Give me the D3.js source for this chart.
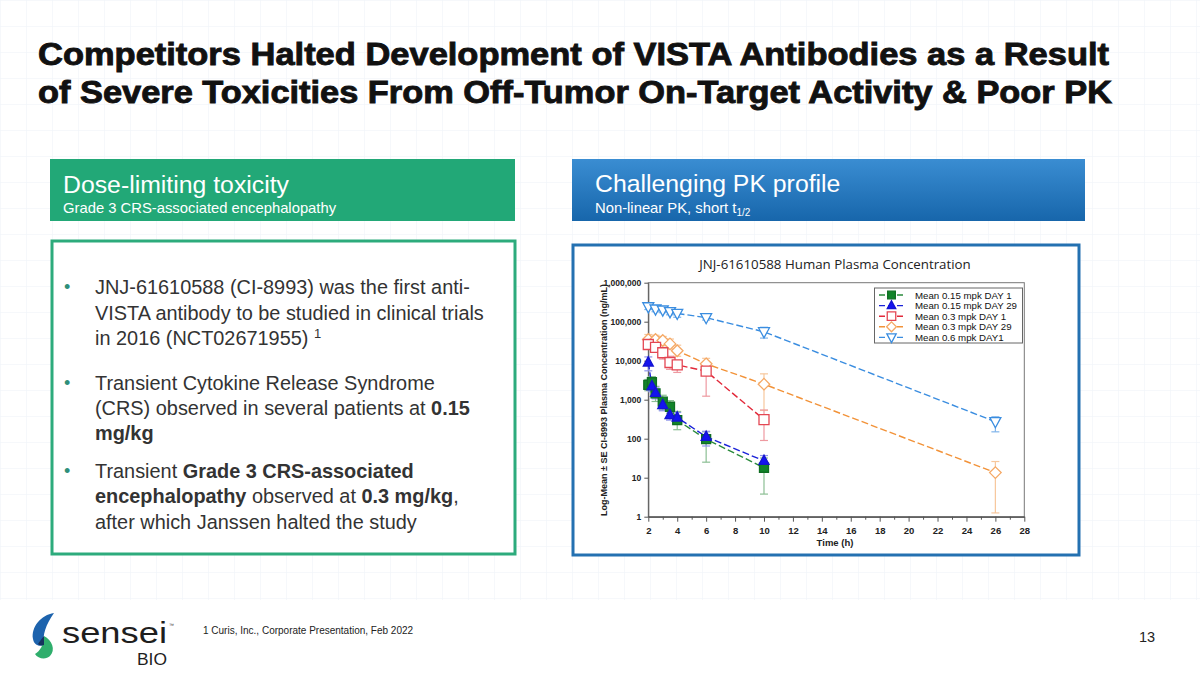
<!DOCTYPE html>
<html><head><meta charset="utf-8">
<script src="https://cdn.jsdelivr.net/npm/d3@7"></script>
<style>
html,body{margin:0;padding:0;background:#fff;}
svg{display:block;font-family:"Liberation Sans",Arial,sans-serif;}
</style></head>
<body>
<svg id="c" width="1200" height="675"></svg>
<script>
// ---------------- data ----------------
const xTicks = [2,4,6,8,10,12,14,16,18,20,22,24,26,28];
const xMinor = [3,5,7,9,11,13,15,17,19,21,23,25,27];
const yTicks = [1,10,100,1000,10000,100000,1000000];

const seriesNames = ["Mean 0.15 mpk DAY 1","Mean 0.15 mpk DAY 29","Mean 0.3 mpk DAY 1","Mean 0.3 mpk DAY 29","Mean 0.6 mpk DAY1"];

const t015d1 = [2, 2.25, 2.5, 3, 3.5, 4, 6, 10];
const mean015d1 = [2400, 2800, 1450, 890, 660, 300, 97, 18];
const lo015d1 = [1700, 2000, 900, 550, 450, 170, 25, 3.8];
const hi015d1 = [3300, 3900, 2200, 1300, 950, 500, 150, 32];

const t015d29 = [2, 2.25, 2.5, 3, 3.5, 4, 6, 10];
const mean015d29 = [9000, 2200, 1500, 730, 400, 350, 112, 27];
const lo015d29 = [5500, 1600, 1050, 520, 300, 260, 65, 20];
const hi015d29 = [12500, 3000, 2000, 1000, 520, 470, 155, 37];

const t03d1 = [2, 2.5, 3, 3.5, 4, 6, 10];
const mean03d1 = [26000, 22000, 16000, 9000, 7800, 5400, 310];
const lo03d1 = [20000, 17000, 11000, 6000, 5000, 1230, 90];
const hi03d1 = [32000, 28000, 22000, 13000, 10000, 9500, 545];

const t03d29 = [2, 2.5, 3, 3.5, 4, 6, 10, 26];
const mean03d29 = [35000, 35000, 33000, 27000, 18000, 8300, 2500, 13.5];
const lo03d29 = [26000, 27000, 25000, 20000, 13000, 6000, 530, 1.25];
const hi03d29 = [47000, 45000, 42000, 36000, 25000, 11500, 4600, 26];

const t06d1 = [2, 2.5, 3, 3.5, 4, 6, 10, 26];
const mean06d1 = [240000, 210000, 198000, 180000, 163000, 127000, 55000, 273];
const lo06d1 = [205000, 180000, 170000, 150000, 130000, 110000, 38000, 150];
const hi06d1 = [280000, 245000, 230000, 210000, 195000, 150000, 72000, 365];

const bullets = [
  [[{t:"JNJ-61610588 (CI-8993) was the first anti-"}],
   [{t:"VISTA antibody to be studied in clinical trials"}],
   [{t:"in 2016 (NCT02671955) "},{t:"1",sup:true}]],
  [[{t:"Transient Cytokine Release Syndrome"}],
   [{t:"(CRS) observed in several patients at "},{t:"0.15",b:true}],
   [{t:"mg/kg",b:true}]],
  [[{t:"Transient "},{t:"Grade 3 CRS-associated",b:true}],
   [{t:"encephalopathy",b:true},{t:" observed at "},{t:"0.3 mg/kg",b:true},{t:","}],
   [{t:"after which Janssen halted the study"}]]
];

// ---------------- drawing ----------------
const svg = d3.select("#c");
const defs = svg.append("defs");

// background grid
const gp = defs.append("pattern").attr("id","grid").attr("width",26).attr("height",26).attr("patternUnits","userSpaceOnUse");
gp.append("path").attr("d","M26 0 L0 0 0 26").attr("fill","none").attr("stroke","#edf2f7").attr("stroke-width",1);
svg.append("rect").attr("width",1200).attr("height",675).attr("fill","#fff");
svg.append("rect").attr("width",1200).attr("height",600).attr("fill","url(#grid)");

// title
const title = svg.append("g").attr("font-weight","bold").attr("fill","#111").attr("stroke","#111").attr("stroke-width",0.9).attr("font-size",31);
title.append("text").attr("x",38).attr("y",65).attr("textLength",1071).attr("lengthAdjust","spacingAndGlyphs")
  .text("Competitors Halted Development of VISTA Antibodies as a Result");
title.append("text").attr("x",38).attr("y",103).attr("textLength",1074).attr("lengthAdjust","spacingAndGlyphs")
  .text("of Severe Toxicities From Off-Tumor On-Target Activity & Poor PK");

// green header
svg.append("rect").attr("x",50).attr("y",159).attr("width",465).attr("height",62).attr("fill","#22a877");
svg.append("text").attr("x",63).attr("y",193).attr("fill","#fff").attr("font-size",24.8).text("Dose-limiting toxicity");
svg.append("text").attr("x",63).attr("y",213).attr("fill","#fff").attr("font-size",14.8).text("Grade 3 CRS-associated encephalopathy");

// blue header
const lg = defs.append("linearGradient").attr("id","bg").attr("x1",0).attr("y1",0).attr("x2",0).attr("y2",1);
lg.append("stop").attr("offset","0%").attr("stop-color","#3a8dd2");
lg.append("stop").attr("offset","100%").attr("stop-color","#1766ab");
svg.append("rect").attr("x",572).attr("y",159).attr("width",513).attr("height",62).attr("fill","url(#bg)");
svg.append("text").attr("x",595).attr("y",192).attr("fill","#fff").attr("font-size",24.8).text("Challenging PK profile");
const sub = svg.append("text").attr("x",595).attr("y",213).attr("fill","#fff").attr("font-size",14.8);
sub.append("tspan").text("Non-linear PK, short t");
sub.append("tspan").attr("font-size",10).attr("dy",3).text("1/2");

// left content box
svg.append("rect").attr("x",52).attr("y",241).attr("width",463).attr("height",313).attr("fill","#fff").attr("stroke","#2dab7c").attr("stroke-width",3);
const lineY = [[287,313,338],[383,408,433],[471,496,522]];
bullets.forEach((b,bi)=>{
  svg.append("text").attr("x",64).attr("y",lineY[bi][0]+6).attr("fill","#2e8f7a").attr("font-size",18).text("•");
  b.forEach((ln,li)=>{
    const tx = svg.append("text").attr("x",95).attr("y",lineY[bi][li]+7).attr("fill","#333").attr("font-size",19.9);
    ln.forEach(s=>{
      const sp = tx.append("tspan").text(s.t);
      if(s.b) sp.attr("font-weight","bold");
      if(s.sup) sp.attr("font-size",13).attr("dy",-7);
    });
  });
});

// chart box
svg.append("rect").attr("x",573).attr("y",245).attr("width",506).attr("height",310).attr("fill","#fff").attr("stroke","#2471b1").attr("stroke-width",3);
svg.append("text").attr("x",835).attr("y",269).attr("text-anchor","middle").attr("font-family","'Open Sans',sans-serif").attr("font-size",13.3).attr("fill","#222")
  .text("JNJ-61610588 Human Plasma Concentration");

const L=648.3, R=1024.3, T=282.7, B=516.7;
const x = d3.scaleLinear().domain([2,28]).range([L,R]);
const y = d3.scaleLog().domain([1,1e6]).range([B,T]);

svg.append("rect").attr("x",L).attr("y",T).attr("width",R-L).attr("height",B-T).attr("fill","none").attr("stroke","#777").attr("stroke-width",1);

const xAx = svg.append("g").attr("transform",`translate(0,${B})`)
  .call(d3.axisBottom(x).tickValues(xTicks).tickSize(5).tickSizeOuter(0).tickFormat(d3.format("d")));
svg.append("g").attr("transform",`translate(0,${B})`)
  .call(d3.axisBottom(x).tickValues(xMinor).tickSize(3).tickSizeOuter(0).tickFormat(""));
const yAx = svg.append("g").attr("transform",`translate(${L},0)`)
  .call(d3.axisLeft(y).tickValues(yTicks).tickSize(4).tickSizeOuter(0).tickFormat(d3.format(",")));
svg.selectAll(".domain").attr("stroke","#555");
svg.selectAll(".tick line").attr("stroke","#555");
xAx.selectAll("text").attr("font-size",9.5).attr("font-weight","bold").attr("fill","#222").attr("font-family","'Liberation Sans',Arial,sans-serif").attr("dy","0.95em");
yAx.selectAll("text").attr("font-size",8.5).attr("font-weight","bold").attr("fill","#222").attr("font-family","'Liberation Sans',Arial,sans-serif");

svg.append("text").attr("x",835).attr("y",546).attr("text-anchor","middle").attr("font-weight","bold").attr("font-size",9.5).attr("fill","#222").text("Time (h)");
svg.append("text").attr("transform","translate(607,400) rotate(-90)").attr("text-anchor","middle").attr("font-weight","bold")
  .attr("font-size",8.4).attr("fill","#222").attr("textLength",232).attr("lengthAdjust","spacingAndGlyphs")
  .text("Log-Mean ± SE CI-8993 Plasma Concentration (ng/mL)");

// series
const series = [
  {name:seriesNames[4], t:t06d1, m:mean06d1, lo:lo06d1, hi:hi06d1, line:"#3a8de0", err:"#7fb4ea", mk:"tri-down", fill:"#fff", stroke:"#3a8de0", size:11},
  {name:seriesNames[3], t:t03d29, m:mean03d29, lo:lo03d29, hi:hi03d29, line:"#f29238", err:"#f7c79c", mk:"diamond", fill:"#fff", stroke:"#f5a864", size:11},
  {name:seriesNames[2], t:t03d1, m:mean03d1, lo:lo03d1, hi:hi03d1, line:"#e2293a", err:"#ee9aa1", mk:"square", fill:"#fff", stroke:"#e44753", size:10},
  {name:seriesNames[0], t:t015d1, m:mean015d1, lo:lo015d1, hi:hi015d1, line:"#2b8a3c", err:"#8cbf94", mk:"square", fill:"#12842a", stroke:"#0f6e22", size:9},
  {name:seriesNames[1], t:t015d29, m:mean015d29, lo:lo015d29, hi:hi015d29, line:"#1a22d8", err:"#8f94ea", mk:"tri-up", fill:"#1414f0", stroke:"#1414d0", size:10}
];

function marker(g, type, cx, cy, s, fill, stroke){
  const h = s/2;
  let p;
  if(type==="square") p = `M${cx-h},${cy-h}h${s}v${s}h${-s}Z`;
  else if(type==="diamond") p = `M${cx},${cy-h*1.05}L${cx+h*1.05},${cy}L${cx},${cy+h*1.05}L${cx-h*1.05},${cy}Z`;
  else if(type==="tri-up") p = `M${cx},${cy-h*1.15}L${cx+h},${cy+h*0.7}L${cx-h},${cy+h*0.7}Z`;
  else p = `M${cx-h},${cy-h*0.75}L${cx+h},${cy-h*0.75}L${cx},${cy+h*1.1}Z`;
  g.append("path").attr("d",p).attr("fill",fill).attr("stroke",stroke).attr("stroke-width",1.3);
}

const plot = svg.append("g");
series.forEach(s=>{
  const g = plot.append("g");
  s.t.forEach((t,i)=>{
    const cx = x(t);
    g.append("line").attr("x1",cx).attr("x2",cx).attr("y1",y(s.lo[i])).attr("y2",y(s.hi[i])).attr("stroke",s.err).attr("stroke-width",1.2);
    [s.lo[i],s.hi[i]].forEach(v=>g.append("line").attr("x1",cx-4).attr("x2",cx+4).attr("y1",y(v)).attr("y2",y(v)).attr("stroke",s.err).attr("stroke-width",1.2));
  });
});
series.forEach(s=>{
  const pts = s.t.map((t,i)=>[x(t), y(s.m[i])]);
  plot.append("path").attr("d",d3.line()(pts)).attr("fill","none").attr("stroke",s.line).attr("stroke-width",1.4).attr("stroke-dasharray","7,3");
});
series.forEach(s=>{
  const g = plot.append("g");
  s.t.forEach((t,i)=>marker(g, s.mk, x(t), y(s.m[i]), s.size, s.fill, s.stroke));
});

// legend
const leg = svg.append("g");
leg.append("rect").attr("x",874.5).attr("y",288).attr("width",148).attr("height",55).attr("fill","#fff").attr("stroke","#666").attr("stroke-width",1);
const legOrder = [3,4,2,1,0];
legOrder.forEach((si,k)=>{
  const s = series[si];
  const ly = 295 + k*10.6;
  leg.append("line").attr("x1",879).attr("x2",906).attr("y1",ly).attr("y2",ly).attr("stroke",s.line).attr("stroke-width",1.4).attr("stroke-dasharray","6,3");
  marker(leg, s.mk, 891.5, ly, s.size*0.85, s.fill, s.stroke);
  leg.append("text").attr("x",915).attr("y",ly+3.5).attr("font-size",9.7).attr("fill","#111").text(s.name);
});

// footer
const logo = svg.append("g");
logo.append("path").attr("d","M54 613 C41 615 31 627 33 639 C34 645 39 647 44 645 C42 636 46 624 54 613 Z").attr("fill","#1d63ad");
logo.append("path").attr("d","M44 636 C52 640 56 650 50 656 C46 660 38 659 35 654 C40 651 44 645 44 636 Z").attr("fill","#2fae6c");
logo.append("path").attr("d","M44 636 C44 640 44 643 44 645 C41 646 39 645 38 644 C40 641 42 638 44 636 Z").attr("fill","#16325e");
logo.append("text").attr("x",62).attr("y",643).attr("font-size",30).attr("fill","#1e1e1e").attr("textLength",105).attr("lengthAdjust","spacingAndGlyphs").text("sensei");
logo.append("text").attr("x",169).attr("y",627).attr("font-size",5).attr("fill","#333").text("™");
logo.append("text").attr("x",137).attr("y",665).attr("font-size",16.5).attr("fill","#1e1e1e").attr("textLength",30).attr("lengthAdjust","spacingAndGlyphs").text("BIO");

svg.append("text").attr("x",203).attr("y",634).attr("font-size",10).attr("fill","#222").text("1 Curis, Inc., Corporate Presentation, Feb 2022");
svg.append("text").attr("x",1139).attr("y",642).attr("font-size",14.5).attr("fill","#222").text("13");
</script>
</body></html>
